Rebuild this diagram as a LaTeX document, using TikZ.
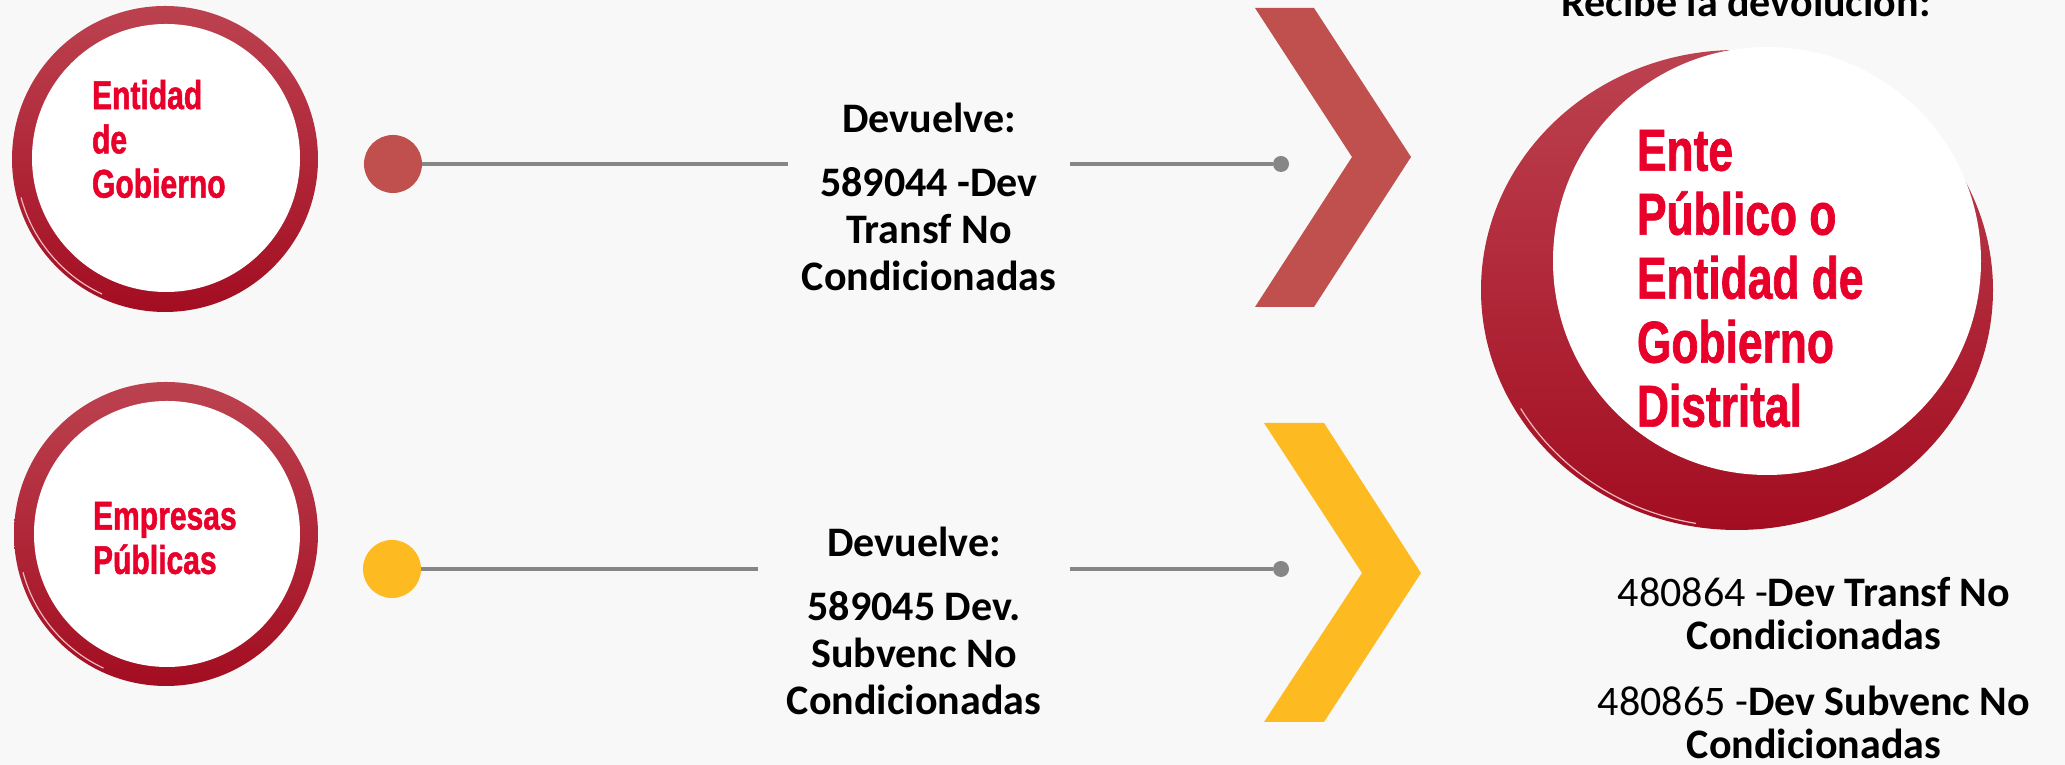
\documentclass[tikz,border=0pt]{standalone}
\usepackage{fontspec}
\setmainfont{Carlito}
\newfontfamily\condfont[FakeStretch=0.75, FakeBold=1.2]{Liberation Sans Bold}

\definecolor{ringtop}{HTML}{BC4250}
\definecolor{ringbot}{HTML}{A30D21}
\definecolor{titlered}{HTML}{E8002A}
\definecolor{chevred}{HTML}{C0504D}
\definecolor{chevyel}{HTML}{FEBA21}
\definecolor{linegray}{HTML}{868686}
\definecolor{bggray}{HTML}{F8F8F8}
\definecolor{shine}{HTML}{F4B8C0}

\begin{document}
\begin{tikzpicture}[x=0.01cm, y=-0.01cm,
    every node/.style={inner sep=0pt, outer sep=0pt},
    circtext/.style={font=\condfont\fontsize{11.4}{12.6}\selectfont, text=titlered, align=left, anchor=north west},
    bigtext/.style={font=\condfont\fontsize{16.8}{18.2}\selectfont, text=titlered, align=left, anchor=north west},
    devtext/.style={font=\bfseries\fontsize{11.95}{13.3}\selectfont, align=center, anchor=north},
    bullet/.style={circle, minimum size=0.58cm},
    enddot/.style={circle, fill=linegray, minimum size=0.16cm},
    linkline/.style={linegray, line width=0.04cm}]
    \fill[bggray] (0,0) rectangle (2065,765);
    \useasboundingbox (0,0) rectangle (2065,765);

    \shade[top color=ringtop, bottom color=ringbot] (165,159) circle (153);
    \draw[shine, line width=0.012cm] ([shift={(115:149)}]165,159) arc[start angle=115, end angle=165, radius=149];
    \fill[white] (166,158) circle (134);
    \node[circtext] (ent) at (92,80) {Entidad\\de\\Gobierno};

    \shade[top color=ringtop, bottom color=ringbot] (166,534) circle (152);
    \draw[shine, line width=0.012cm] ([shift={(115:148)}]166,534) arc[start angle=115, end angle=165, radius=148];
    \fill[white] (167,534) circle (133);
    \node[circtext] (emp) at (93,502) {Empresas\\Públicas};

    \shade[top color=ringtop, bottom color=ringbot] (1737,290) ellipse [x radius=256, y radius=240];
    \draw[shine, line width=0.012cm] ([shift={(100:237)}]1737,290) arc[start angle=100, end angle=150, x radius=253, y radius=237];
    \fill[white] (1767,261) circle (214);
    \node[bigtext] (ente) at (1637,130) {Ente\\Público o\\Entidad de\\Gobierno\\Distrital};

    \fill[chevred] (1255,8) -- (1314,8) -- (1411,157) -- (1314,307) -- (1255,307) -- (1352,157) -- cycle;
    \fill[chevyel] (1264,423) -- (1324,423) -- (1421,573) -- (1324,722) -- (1264,722) -- (1362,573) -- cycle;

    \node[bullet, fill=chevred] (dotA) at (393,164) {};
    \node[bullet, fill=chevyel] (dotB) at (392,569) {};
    \node[enddot] (endA) at (1281,164) {};
    \node[enddot] (endB) at (1281,569) {};

    \node[devtext, minimum width=2.81cm] (devA) at (929,103) {Devuelve:\\[5pt]589044 -Dev\\Transf No\\Condicionadas};
    \node[devtext, minimum width=3.11cm] (devB) at (914,527) {Devuelve:\\[5pt]589045 Dev.\\Subvenc No\\Condicionadas};

    \draw[linkline] (dotA) -- (dotA -| devA.west);
    \draw[linkline] (dotA -| devA.east) -- (endA);
    \draw[linkline] (dotB) -- (dotB -| devB.west);
    \draw[linkline] (dotB -| devB.east) -- (endB);

    \node[anchor=base, font=\bfseries\fontsize{11.95}{13.3}\selectfont] (rec) at (1746,17) {Recibe la devolución:};
    \node[devtext, font=\fontsize{11.95}{12.2}\selectfont] (ctas) at (1814,577) {480864 -\textbf{Dev Transf No}\\\textbf{Condicionadas}\\[6.8pt]480865 -\textbf{Dev Subvenc No}\\\textbf{Condicionadas}};
\end{tikzpicture}
\end{document}
